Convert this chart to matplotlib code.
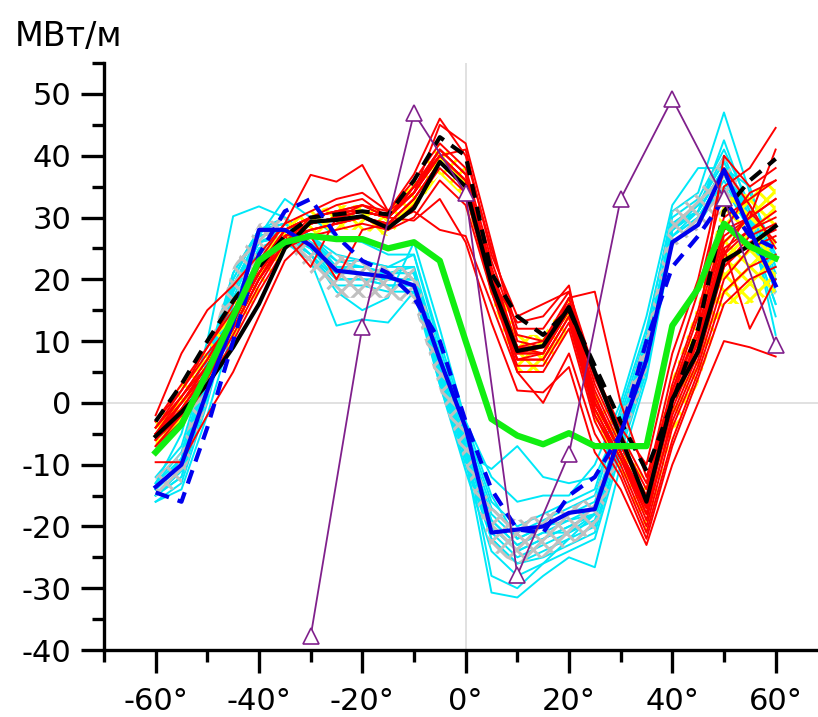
import matplotlib.pyplot as plt
from matplotlib.ticker import MultipleLocator, FixedLocator, FuncFormatter

plt.rcParams['font.family'] = ['DejaVu Sans']
plt.rcParams['axes.unicode_minus'] = False
plt.rcParams['hatch.linewidth'] = 2.2

# latitude grid
lat = [-60, -55, -50, -45, -40, -35, -30, -25, -20, -15, -10, -5, 0,
       5, 10, 15, 20, 25, 30, 35, 40, 45, 50, 55, 60]

# red ensemble
red_runs = [
    [-4, 1, 7, 14, 22, 28, 30, 31, 32, 30, 35, 41, 37, 21, 9, 9, 16, 1, -8, -18, 1, 12, 27, 30, 33],
    [-6, -1, 5, 12, 20, 26, 28, 29, 30, 29, 33, 39, 35, 19, 7, 7, 14, -1, -9, -19, -2, 8, 22, 26, 28],
    [-2, 8, 15, 19, 24, 29, 31, 33, 34, 31, 36, 42, 38, 23, 11, 10, 17, 3, -6, -14, 3, 15, 30, 33, 36],
    [-9.6, -9.6, -2, 5, 14, 23, 27, 28, 29, 28, 32, 38, 34, 18, 6, 6, 13, -2, -10, -20, -4, 6, 20, 25, 27],
    [-7, -3, 3, 10, 18, 25, 27, 20, 28, 29, 31, 28, 27, 16, 5, 5, 12, -3, -11, -21, -6, 5, 18, 22, 24],
    [-3, 2, 9, 16, 23, 29, 36.9, 35.8, 38.5, 31, 37, 46, 40, 25, 12, 12, 18, 4, -5, -13, 5, 18, 35, 38, 44.5],
    [-5, 0, 6, 13, 21, 28, 30, 31, 31, 30, 35, 40, 36, 20, 8, 9, 15, 0, -8, -16, 0, 11, 26, 30, 41],
    [-6, -2, 4, 11, 19, 26, 29, 30, 30, 29, 33, 39, 35, 19, 8, 8, 15, -1, -9, -17, -1, 9, 24, 28, 30],
    [-4, 1, 7, 14, 21, 27, 22, 30, 31, 30, 29.5, 33, 26, 13, 2, 1.7, 5.8, -8, -14, -23, -10, 0, 10, 9, 7.5],
    [-5, -1, 5, 12, 20, 27, 29, 30, 31, 30, 34, 41, 37, 21, 9, 8, 17, 18, 0, -12, 2, 14, 28, 30, 33],
    [-7, -2, 4, 12, 20, 26, 28, 29, 30, 29, 33, 39, 35, 19, 7, 7, 14, -2, -9, -18, -3, 7, 22, 27, 29],
    [-3, 3, 9, 15, 22, 28, 30, 32, 33, 30, 35, 41, 37, 22, 9, 10, 16, 2, -7, -15, 2, 12, 40, 35, 38],
    [-5, 0, 6, 14, 21, 27, 29, 30, 31, 30, 34, 40, 36, 20, 13, 14, 19, 0, -8, -17, 0, 10, 24, 31, 26],
    [-6, 0, 5, 13, 21, 27, 29, 30, 32, 31, 34, 40, 41, 24, 14, 16, 18, 5, -4, -10, 8, 20, 38, 32, 25],
    [-4, 2, 8, 13, 21, 27, 29, 30, 31, 30, 34, 40, 36, 20, 5, 0, 8, -5, -12, -22, -7, 4, 16, 20, 22],
    [-5, 0, 6, 13, 22, 28, 30, 31, 31, 30, 35, 40, 36, 20, 8, 8, 15, 0, -8, -17, 0, 10, 25, 28, 31],
    [-6, -1, 5, 12, 20, 26, 30, 31, 32, 30, 34, 45, 42, 26, 10, 9, 16, 1, -8, -17, 1, 12, 28, 34, 36],
    [-5, 1, 6, 14, 21, 27, 28, 29, 30, 28, 30, 36, 32, 18, 7, 8, 15, 0, -8, -16, 0, 10, 25, 12, 20],
]

# cyan ensemble
cyan_runs = [
    [-14, -9, 5, 20, 28, 29, 26, 22, 22, 21, 21, 6, -7, -19, -23, -21, -19, -17, -4, 9, 29, 32, 39, 31, 21],
    [-15, -12, 2, 17, 26, 27, 24, 20, 20, 19, 19, 3, -10, -22, -26, -24, -22, -20, -7, 6, 27, 30, 37, 29, 18],
    [-13, -5, 10, 30.2, 31.8, 30, 27, 24, 23, 22, 22, 8, -5, -17, -21, -19, -17, -15, -2, 11, 31, 34, 47, 34, 24],
    [-16, -14, -2, 12, 23, 26, 23, 12.5, 13.5, 13, 18, 4, -9, -30.7, -31.5, -28, -25, -26.6, -10, 4, 26, 29, 36, 28, 16],
    [-14, -10, 4, 18, 27, 28, 25, 21, 21, 20, 20, 5, -8, -10.7, -7, -12, -13, -12, -3, 10, 28, 31, 42.5, 31, 22],
    [-12, -7, 7, 21, 28, 29, 26, 23, 22, 21, 21, 7, -6, -18, -22, -20, -18, -16, -4, 9, 29, 32, 40, 30, 20],
    [-15, -11, 3, 18, 26, 28, 25, 20, 20, 20, 20, 4, -9, -21, -25, -23, -21, -19, -6, 7, 27, 31, 38, 29, 19],
    [-14, -10, 4, 19, 27, 28, 25, 21, 21, 20, 20, 5, -8, -20, -24, -22, -20, -18, -5, 8, 28, 31, 38, 30, 20],
    [-13, -8, 6, 21, 28, 30, 27, 23, 23, 22, 24, 9, -4, -16, -20, -18, -16, -14, -1, 12, 30, 33, 41, 32, 23],
    [-15, -12, 1, 16, 25, 27, 24, 19, 19, 18, 18, 3, -11, -24, -28, -26, -24, -22, -8, 5, 26, 29, 35, 28, 16],
    [-14, -9, 5, 19, 27, 28, 24, 18, 15, 17, 26, 12, -3, -15, -22, -20, -19, -18, -4, 10, 28, 32, 39, 30, 24],
    [-15, -11, 2, 18, 26, 27, 24, 20, 20, 19, 19, 4, -9, -22, -26, -25, -23, -21, -7, 6, 27, 30, 37, 28, 14],
    [-13, -9, 5, 20, 28, 29, 27, 22, 21, 21, 22, 6, -7, -19, -23, -21, -21, -18, -5, 8, 29, 31, 38, 30, 11],
    [-14, -10, 3, 18, 26, 27, 25, 21, 21, 20, 20, 5, -8, -20, -24, -22, -20, -18, -5, 8, 28, 31, 38, 30, 26],
    [-16, -13, 0, 16, 25, 27, 26, 22, 22, 21, 21, 6, -7, -28, -30, -26, -22, -18, -5, 8, 28, 31, 38, 30, 20],
    [-14, -10, 4, 19, 27, 33, 30, 27, 26, 24, 24, 10, -3, -12, -16, -15, -15, -10, 0, 14, 32, 38, 38, 35, 22],
]

# hatched spread bands
gray_low = [-16, -13, 0, 16, 24, 26, 21, 17, 17, 17, 16, 2, -10, -24, -26, -25, -23, -21, -8, 5, 25, 28, 31, 26, 17]
gray_high = [-12, -8, 8, 22, 29, 30, 26, 24, 23, 22, 22, 8, -5, -17, -19, -18, -17, -15, -2, 11, 31, 34, 40, 32, 22]
yellow_low = [-7, -3, 3, 10, 18, 25, 27, 28, 28, 27, 31, 37, 33, 17, 5, 5, 12, -3, -11, -21, -5, 3, 16, 16, 18]
yellow_high = [-3, 3, 9, 16, 23, 29, 31, 32, 32, 31, 36, 42, 38, 22, 11, 11, 17, 2, -5, -13, 4, 16, 33, 34, 36]

black_solid = [-5.4, -1.5, 3, 9, 16, 25, 29.3, 29.6, 30.2, 28.3, 31.5, 39, 35, 19.3, 8.4, 9.2, 15.5, 5, -5.5, -16, 0.6, 8.3, 23, 25.5, 28.6]
black_dash = [-3, 3, 10, 16.5, 22, 27, 30, 30.5, 31, 30.5, 36, 43, 40, 21, 14, 11, 15, 6, -3, -11, 0, 12, 31, 36, 39.5]
blue_solid = [-13.6, -10, 2, 13, 28, 28, 25.5, 21.4, 20.9, 20.4, 19, 7, -4, -21, -20.5, -20, -17.8, -17.2, -5, 7, 26, 28.8, 37.7, 28, 19]
blue_dash = [-14.5, -16, -4, 10, 24, 31, 33, 27, 23, 21, 17, 10, -3, -14, -20.5, -21, -15, -12, -5, 10, 22, 27, 33, 27, 25]
green = [-8, -3.5, 5, 14, 23, 26, 27, 26.5, 26.5, 25, 26, 23, 10, -2.6, -5.3, -6.7, -4.9, -7, -7, -7, 12.5, 18.5, 29, 25.3, 23.4]

tri_lat = [-30, -20, -10, 0, 10, 20, 30, 40, 50, 60]
tri_val = [-37.8, 12.3, 46.9, 33.9, -27.9, -8.3, 33, 49.2, 33.1, 9.4]


def main():
	fig = plt.figure(figsize=(8.18, 7.17), dpi=100)
	ax = fig.add_axes([0.1271, 0.0934, 0.8729, 0.8187])

	ax.axhline(0, color="#d9d9d9", lw=1.1, zorder=0)
	ax.axvline(0, color="#d9d9d9", lw=1.1, zorder=0)

	for run in cyan_runs:
		ax.plot(lat, run, color="#00e8f8", lw=1.4, zorder=2)
	ax.fill_between(lat, gray_low, gray_high, facecolor="none", edgecolor="#c0c0c0",
	                hatch="xx", lw=0, zorder=3)
	for run in red_runs:
		ax.plot(lat, run, color="#ff0000", lw=1.4, zorder=4)
	ax.fill_between(lat, yellow_low, yellow_high, facecolor="none", edgecolor="#ffff00",
	                hatch="xx", lw=0, zorder=3.5)

	ax.plot(lat, black_dash, color="black", lw=3, ls=(0, (3.4, 2.2)), zorder=5)
	ax.plot(lat, black_solid, color="black", lw=3, zorder=5)
	ax.plot(lat, blue_dash, color="#0000ee", lw=3, ls=(0, (3.4, 2.2)), zorder=5)
	ax.plot(lat, blue_solid, color="#0000ee", lw=3, zorder=5)
	ax.plot(lat, green, color="#11ee11", lw=4.5, zorder=6)
	ax.plot(tri_lat, tri_val, color="#80208c", lw=1.3, marker="^", markersize=12,
	        mfc="white", mec="#80208c", mew=1.2, zorder=7)

	ax.set_xlim(-70, 68.2)
	ax.set_ylim(-40, 55)

	for side in ["top", "right"]:
		ax.spines[side].set_visible(False)
	for side in ["left", "bottom"]:
		ax.spines[side].set_linewidth(2.4)

	ax.xaxis.set_major_locator(FixedLocator([-60, -40, -20, 0, 20, 40, 60]))
	ax.xaxis.set_minor_locator(FixedLocator([-70, -50, -30, -10, 10, 30, 50]))
	ax.xaxis.set_major_formatter(FuncFormatter(lambda v, p: "%d°" % v))
	ax.yaxis.set_major_locator(MultipleLocator(10))
	ax.yaxis.set_minor_locator(FixedLocator([-35, -25, -15, -5, 5, 15, 25, 35, 45, 55]))

	ax.tick_params(which="major", length=16.5, width=2.4, labelsize=22)
	ax.tick_params(which="minor", length=8.6, width=2.4)
	ax.tick_params(axis="x", which="major", pad=10)
	ax.tick_params(axis="y", which="major", pad=7)

	fig.text(15 / 818, 1 - 46 / 717, "МВт/м", fontsize=24, va="baseline", ha="left")

	fig.savefig("out.png", dpi=100)

if __name__ == '__main__':
	main()
